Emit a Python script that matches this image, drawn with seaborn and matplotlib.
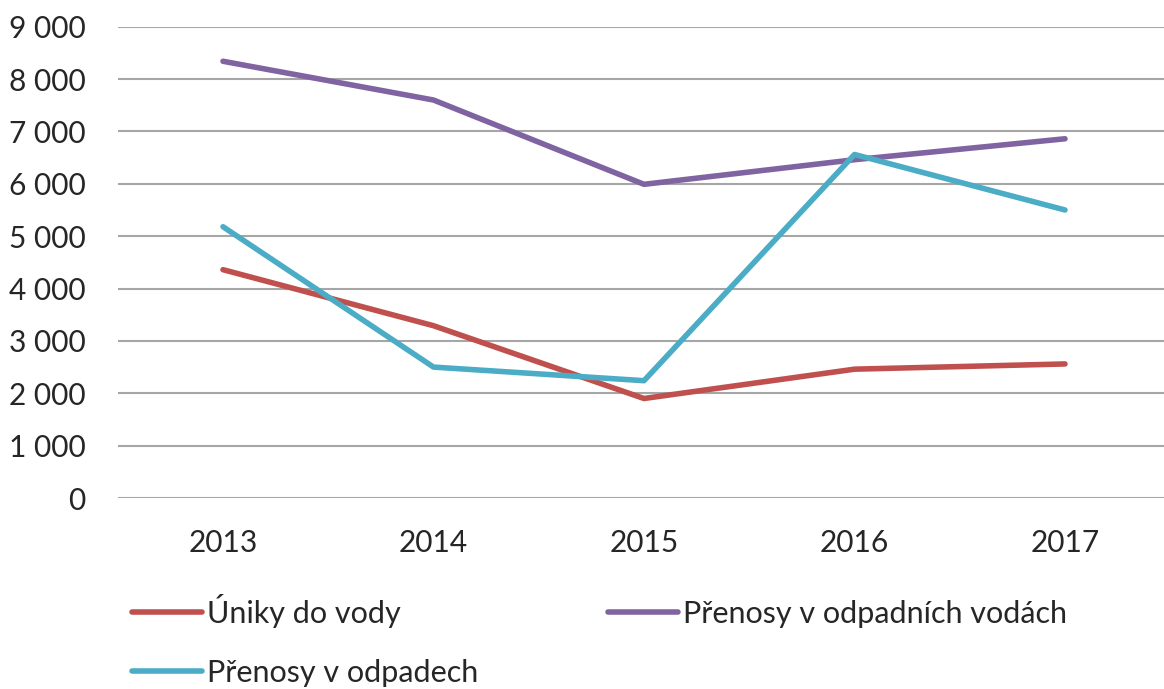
import matplotlib
matplotlib.use("Agg")
import matplotlib.pyplot as plt
import seaborn as sns
import pandas as pd
from matplotlib.lines import Line2D

years = ["2013", "2014", "2015", "2016", "2017"]
uniky_do_vody = [4360, 3290, 1900, 2460, 2560]
prenosy_odpadni_vody = [8340, 7600, 5990, 6460, 6860]
prenosy_odpady = [5180, 2500, 2240, 6560, 5500]
series_names = ["Úniky do vody", "Přenosy v odpadních vodách", "Přenosy v odpadech"]
y_ticks = [0, 1000, 2000, 3000, 4000, 5000, 6000, 7000, 8000, 9000]
y_tick_labels = ["0", "1 000", "2 000", "3 000", "4 000", "5 000", "6 000", "7 000", "8 000", "9 000"]
colors = ["#C0504D", "#8064A2", "#4BACC6"]

rows = []
for name, vals in zip(series_names, [uniky_do_vody, prenosy_odpadni_vody, prenosy_odpady]):
    for i, (yr, v) in enumerate(zip(years, vals)):
        rows.append({"x": i, "year": yr, "value": v, "series": name})
df = pd.DataFrame(rows)

sns.set_style("white")
plt.rcParams["font.family"] = ["Lato", "DejaVu Sans"]
text_color = "#262626"
lw = 4.0

fig = plt.figure(figsize=(11.64, 6.89), dpi=100)
W, H = 1164, 689
left_px = 117.75
ax = fig.add_axes([left_px / W, (H - 498) / H, (W - left_px) / W, (498 - 26.7) / H])

sns.lineplot(data=df, x="x", y="value", hue="series", hue_order=series_names,
             palette=colors, linewidth=lw, ax=ax, legend=False, sort=False)
for line in ax.lines:
    line.set_solid_capstyle("round")
    line.set_solid_joinstyle("round")

ax.set_xlim(-0.5, -0.5 + (W - left_px) / 210.5)
ax.set_ylim(0, 9000)
ax.set_yticks(y_ticks)
ax.set_yticklabels(y_tick_labels)
ax.set_xticks(range(len(years)))
ax.set_xticklabels(years)
ax.set_xlabel("")
ax.set_ylabel("")
for s in ax.spines.values():
    s.set_visible(False)
ax.yaxis.grid(True, color="#A6A6A6", linewidth=1.5)
ax.set_axisbelow(True)
ax.tick_params(axis="y", length=0, pad=23, labelsize=21.5, labelcolor=text_color)
ax.tick_params(axis="x", length=0, pad=22, labelsize=21.5, labelcolor=text_color)

handles = [Line2D([], [], color=colors[0], linewidth=lw, solid_capstyle="round"),
           Line2D([], [], color=colors[2], linewidth=lw, solid_capstyle="round"),
           Line2D([], [], color=colors[1], linewidth=lw, solid_capstyle="round")]
labels = [series_names[0], series_names[2], series_names[1]]
leg = fig.legend(handles, labels, ncol=2, loc="upper left",
                 bbox_to_anchor=(132 / W, 1 - 593.5 / H), frameon=False,
                 fontsize=22, handlelength=2.29, handletextpad=0.16,
                 columnspacing=4.25, labelspacing=1.02, borderpad=0, borderaxespad=0)
for t in leg.get_texts():
    t.set_color(text_color)

fig.savefig("out.png", dpi=100)
